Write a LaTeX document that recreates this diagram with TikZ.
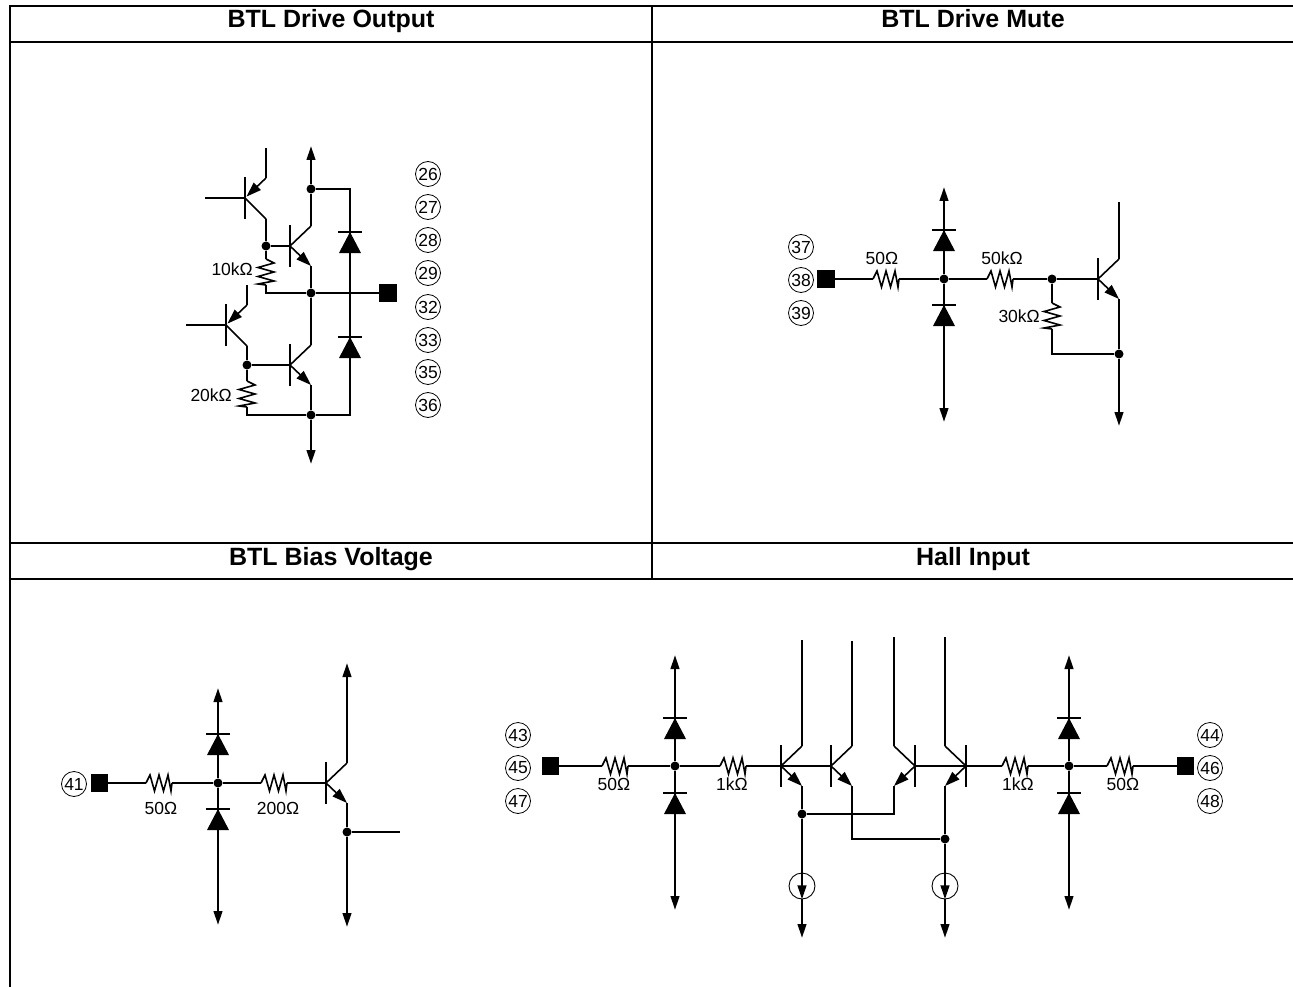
\documentclass[tikz,border=0pt]{standalone}
\usepackage{fontspec}
\setmainfont{Liberation Sans}
\usetikzlibrary{arrows.meta}

\tikzset{
  rule/.style={line width=2.4pt},
  wire/.style={line width=2.5pt},
  lead/.style={line width=1.6pt},
  tip/.style={-{Triangle[length=14pt,width=8.5pt]}},
  etip/.style={-{Triangle[length=15pt,width=10pt]}},
  dot/.style={circle,fill,inner sep=0pt,minimum size=9pt},
  pad/.style={rectangle,fill,inner sep=0pt,minimum size=17.5pt},
  pin/.style={circle,draw,line width=0.8pt,inner sep=0pt,minimum size=25pt,font=\fontsize{17.5}{19}\selectfont},
  val/.style={inner sep=0pt,font=\fontsize{17.5}{19}\selectfont},
  head/.style={inner sep=0pt,anchor=base,font=\fontsize{25}{27}\selectfont\bfseries},
  source/.style={circle,draw,line width=0.9pt,inner sep=0pt,minimum size=26pt},
  npn/.pic={
    \coordinate (-b) at (0,0);
    \coordinate (-c) at (21,-20);
    \coordinate (-e) at (21,20);
    \draw[wire] (0,-21) -- (0,21);
    \draw[lead] (-b) -- (-c);
    \draw[lead,etip] (-b) -- (-e);
  },
  pnp/.pic={
    \coordinate (-b) at (0,0);
    \coordinate (-c) at (21,21);
    \coordinate (-e) at (21,-20);
    \draw[wire] (0,-21) -- (0,21);
    \draw[lead] (-b) -- (-c);
    \draw[lead,etip,shorten >=2pt] (-e) -- (-b);
  },
  diode/.pic={
    \draw[wire] (-12,0) -- (12,0);
    \fill (0,0) -- (11,21) -- (-11,21) -- cycle;
  },
  res/.pic={
    \coordinate (-a) at (0,0);
    \coordinate (-z) at (26,0);
    \draw[lead,line join=miter] (-a) -- (4,-8) -- (8.5,8) -- (13,-8) -- (17.5,8) -- (22,-8) -- (25,8) -- (-z);
  }
}

\begin{document}
\begin{tikzpicture}[x=1pt,y=-1pt]
  \useasboundingbox (0,0) rectangle (1293,987);

  \draw[rule] (1293,6) -- (10,6) -- (10,987);
  \draw[rule] (10,42) -- (1293,42);
  \draw[rule] (10,543) -- (1293,543);
  \draw[rule] (10,579) -- (1293,579);
  \draw[rule] (652,6) -- (652,579);
  \node[head] (output) at (331,28) {BTL Drive Output};
  \node[head] (mute) at (973,28) {BTL Drive Mute};
  \node[head] (bias) at (331,565) {BTL Bias Voltage};
  \node[head] (hall) at (973,565) {Hall Input};

  % drive output
  \foreach \n/\y in {26/174,27/207,28/240,29/273,32/307,33/340,35/372,36/405}
    \node[pin] (p\n) at (428,\y) {\n};
  \pic (qa) at (245,198) {pnp};
  \pic (qb) at (290,246) {npn};
  \pic (qc) at (226,325) {pnp};
  \pic (qd) at (290,365) {npn};
  \pic[rotate=-90] (ra) at (266,259) {res};
  \pic[rotate=-90] (rb) at (247,381) {res};
  \pic at (350,232) {diode};
  \pic at (350,337) {diode};
  \node[dot] (ja) at (266,246) {};
  \node[dot] (jb) at (311,189) {};
  \node[dot] (jc) at (311,293) {};
  \node[dot] (jd) at (247,365) {};
  \node[dot] (je) at (311,415) {};
  \node[pad] (outpad) at (388,293) {};
  \node[val,anchor=east] (ra label) at (253,269) {10kΩ};
  \node[val,anchor=east] (rb label) at (232,395) {20kΩ};
  \coordinate (qain) at (205,198);
  \coordinate (qaup) at (266,148);
  \coordinate (qcin) at (186,325);
  \coordinate (qcup) at (247,285);
  \coordinate (vtop) at (311,146);
  \coordinate (vbot) at (311,464);
  \draw[wire] (qain) -- (qa-b);
  \draw[wire] (qa-e) -- (qaup);
  \draw[wire] (qa-c) -- (ja) -- (ra-a);
  \draw[wire] (ja) -- (qb-b);
  \draw[wire] (qb-c) -- (jb);
  \draw[wire,tip] (jb) -- (vtop);
  \draw[wire] (jb) -| (350,415) -- (je);
  \draw[wire] (qb-e) -- (jc);
  \draw[wire] (ra-z) |- (jc);
  \draw[wire] (jc) -- (outpad);
  \draw[wire] (qcin) -- (qc-b);
  \draw[wire] (qc-e) -- (qcup);
  \draw[wire] (qc-c) -- (jd) -- (rb-a);
  \draw[wire] (jd) -- (qd-b);
  \draw[wire] (jc) -- (qd-c);
  \draw[wire] (qd-e) -- (je);
  \draw[wire] (rb-z) |- (je);
  \draw[wire,tip] (je) -- (vbot);

  % drive mute
  \foreach \n/\y in {37/247,38/280,39/313}
    \node[pin] (p\n) at (801,\y) {\n};
  \pic (qm) at (1098,279) {npn};
  \pic (rc) at (873,279) {res};
  \pic (rd) at (987,279) {res};
  \pic[rotate=-90] (re) at (1052,303) {res};
  \pic at (944,230) {diode};
  \pic at (944,305) {diode};
  \node[pad] (mutepad) at (826,279) {};
  \node[dot] (jf) at (944,279) {};
  \node[dot] (jg) at (1052,279) {};
  \node[dot] (jh) at (1119,354) {};
  \node[val] (rc label) at (882,258) {50Ω};
  \node[val] (rd label) at (1002,258) {50kΩ};
  \node[val,anchor=east] (re label) at (1040,316) {30kΩ};
  \coordinate (mtop) at (944,187);
  \coordinate (mbot) at (944,422);
  \coordinate (qmup) at (1119,202);
  \coordinate (mout) at (1119,426);
  \draw[wire] (mutepad) -- (rc-a);
  \draw[wire] (rc-z) -- (jf) -- (rd-a);
  \draw[wire] (rd-z) -- (jg) -- (qm-b);
  \draw[wire] (jg) -- (re-a);
  \draw[wire] (re-z) |- (jh);
  \draw[wire,tip] (jf) -- (mtop);
  \draw[wire,tip] (jf) -- (mbot);
  \draw[wire] (qm-c) -- (qmup);
  \draw[wire] (qm-e) -- (jh);
  \draw[wire,tip] (jh) -- (mout);

  % bias voltage
  \node[pin] (p41) at (74,784) {41};
  \node[pad] (biaspad) at (99.5,783) {};
  \pic (qv) at (326,783) {npn};
  \pic (rf) at (146,783) {res};
  \pic (rg) at (261,783) {res};
  \pic at (218,734) {diode};
  \pic at (218,809) {diode};
  \node[dot] (ji) at (218,783) {};
  \node[dot] (jj) at (347,832) {};
  \node[val] (rf label) at (161,808) {50Ω};
  \node[val] (rg label) at (278,808) {200Ω};
  \coordinate (btop) at (218,688);
  \coordinate (bbot) at (218,925);
  \coordinate (qvup) at (347,663);
  \coordinate (bdown) at (347,927);
  \coordinate (bout) at (400,832);
  \draw[wire] (biaspad) -- (rf-a);
  \draw[wire] (rf-z) -- (ji) -- (rg-a);
  \draw[wire] (rg-z) -- (qv-b);
  \draw[wire,tip] (ji) -- (btop);
  \draw[wire,tip] (ji) -- (bbot);
  \draw[wire,tip] (qv-c) -- (qvup);
  \draw[wire] (qv-e) -- (jj) -- (bout);
  \draw[wire,tip] (jj) -- (bdown);

  % hall input
  \foreach \n/\y in {43/735,45/768,47/801}
    \node[pin] (p\n) at (518,\y) {\n};
  \foreach \n/\y in {44/735,46/768,48/801}
    \node[pin] (p\n) at (1210,\y) {\n};
  \node[pad] (hallpad) at (550.5,766) {};
  \node[pad] (hallpadr) at (1185.5,766) {};
  \pic (qh) at (781,766) {npn};
  \pic (qi) at (831,766) {npn};
  \pic[xscale=-1] (qj) at (915,766) {npn};
  \pic[xscale=-1] (qk) at (966,766) {npn};
  \pic (rh) at (602,766) {res};
  \pic (ri) at (720,766) {res};
  \pic (rj) at (1002,766) {res};
  \pic (rk) at (1107,766) {res};
  \foreach \x in {675,1069} {
    \pic at (\x,718) {diode};
    \pic at (\x,793) {diode};
  }
  \node[dot] (jk) at (675,766) {};
  \node[dot] (jl) at (1069,766) {};
  \node[dot] (jm) at (802,814) {};
  \node[dot] (jn) at (945,839) {};
  \node[source] (srca) at (802,886) {};
  \node[source] (srcb) at (945,886) {};
  \node[val] (rh label) at (614,784) {50Ω};
  \node[val] (ri label) at (732,784) {1kΩ};
  \node[val] (rj label) at (1018,784) {1kΩ};
  \node[val] (rk label) at (1123,784) {50Ω};
  \coordinate (htopa) at (675,655);
  \coordinate (hbota) at (675,910);
  \coordinate (htopb) at (1069,655);
  \coordinate (hbotb) at (1069,910);
  \coordinate (qhup) at (802,640);
  \coordinate (qiup) at (852,641);
  \coordinate (qjup) at (894,637);
  \coordinate (qkup) at (945,637);
  \coordinate (enda) at (802,938);
  \coordinate (endb) at (945,938);
  \draw[wire] (hallpad) -- (rh-a);
  \draw[wire] (rh-z) -- (jk) -- (ri-a);
  \draw[wire] (ri-z) -- (qh-b) -- (qi-b);
  \draw[wire] (hallpadr) -- (rk-z);
  \draw[wire] (rk-a) -- (jl) -- (rj-z);
  \draw[wire] (rj-a) -- (qk-b) -- (qj-b);
  \draw[wire,tip] (jk) -- (htopa);
  \draw[wire,tip] (jk) -- (hbota);
  \draw[wire,tip] (jl) -- (htopb);
  \draw[wire,tip] (jl) -- (hbotb);
  \draw[wire] (qh-c) -- (qhup);
  \draw[wire] (qi-c) -- (qiup);
  \draw[wire] (qj-c) -- (qjup);
  \draw[wire] (qk-c) -- (qkup);
  \draw[wire] (qh-e) -- (jm);
  \draw[wire] (qj-e) |- (jm);
  \draw[wire] (qi-e) |- (jn);
  \draw[wire] (qk-e) -- (jn);
  \draw[wire,tip] (jm) -- (srca.south);
  \draw[wire,tip] (jn) -- (srcb.south);
  \draw[wire,tip] (srca.south) -- (enda);
  \draw[wire,tip] (srcb.south) -- (endb);
\end{tikzpicture}
\end{document}
